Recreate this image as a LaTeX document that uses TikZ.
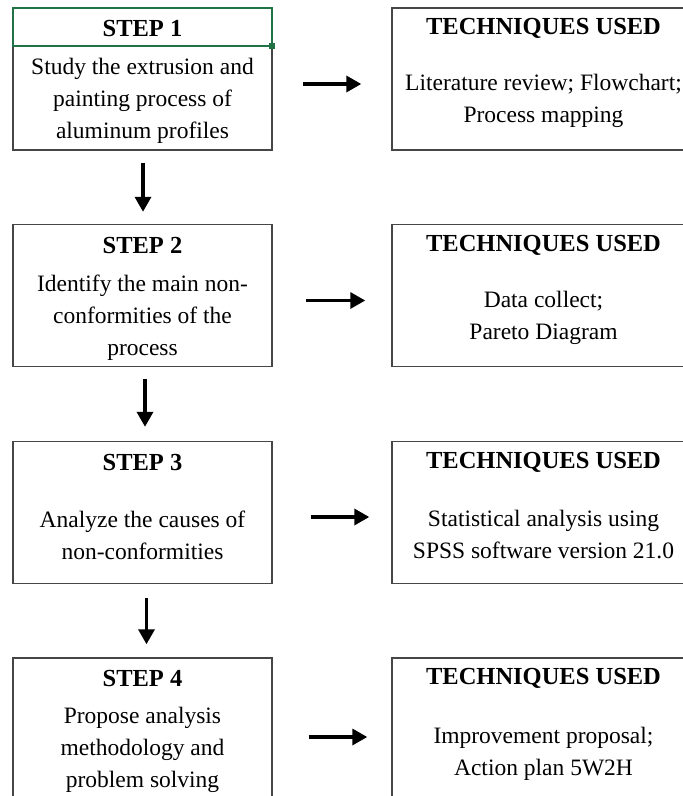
\documentclass[tikz,border=0pt]{standalone}
\usepackage{fontspec}
\setmainfont{Liberation Serif}
\usetikzlibrary{arrows.meta}
\definecolor{boxgray}{RGB}{70,70,70}
\definecolor{selgreen}{RGB}{33,115,70}
\begin{document}
\begin{tikzpicture}[x=1bp,y=-1bp,
  stepbox/.style={draw=boxgray, line width=1.4bp, minimum width=259bp, minimum height=142bp, inner sep=0pt},
  techbox/.style={stepbox, minimum width=303bp},
  head/.style={font=\fontsize{24.5bp}{28bp}\selectfont\bfseries, inner sep=0pt},
  body/.style={font=\fontsize{23.5bp}{32bp}\selectfont, align=center, inner sep=0pt},
  flow/.style={line width=3.4bp, -{Triangle[length=15bp,width=16bp]}}
]
\useasboundingbox (0,0) rectangle (683,796);
\clip (0,0) rectangle (683,796);

% step boxes (left column)
\node[stepbox] (s1) at (142.5,79) {};
\node[stepbox] (s2) at (142.5,295.5) {};
\node[stepbox] (s3) at (142.5,512.5) {};
\node[stepbox] (s4) at (142.5,729) {};

% technique boxes (right column)
\node[techbox] (t1) at (543.5,79) {};
\node[techbox] (t2) at (543.5,295.5) {};
\node[techbox] (t3) at (543.5,512.5) {};
\node[techbox] (t4) at (543.5,729) {};

% selected header cell of step 1
\draw[selgreen, line width=2bp] (13,8) rectangle (272,46);
\fill[selgreen] (269,43) rectangle (275,49);

% headings
\node[head] (h1) at (142.5,28.5) {STEP 1};
\node[head] (h2) at (142.5,245.5) {STEP 2};
\node[head] (h3) at (142.5,462.5) {STEP 3};
\node[head] (h4) at (142.5,678.5) {STEP 4};
\node[head] (g1) at (543.5,28.5) {TECHNIQUES USED};
\node[head] (g2) at (543.5,245.5) {TECHNIQUES USED};
\node[head] (g3) at (543.5,462.5) {TECHNIQUES USED};
\node[head] (g4) at (543.5,678.5) {TECHNIQUES USED};

% step descriptions
\node[body] (b1) at (142.5,101) {Study the extrusion and\\painting process of\\aluminum profiles};
\node[body] (b2) at (142.5,317.5) {Identify the main non-\\conformities of the\\process};
\node[body] (b3) at (142.5,535.5) {Analyze the causes of\\non-conformities};
\node[body] (b4) at (142.5,750) {Propose analysis\\methodology and\\problem solving};

% techniques
\node[body] (d1) at (543.5,100.5) {Literature review; Flowchart;\\Process mapping};
\node[body] (d2) at (543.5,317.5) {Data collect;\\Pareto Diagram};
\node[body] (d3) at (543.5,534.5) {Statistical analysis using\\SPSS software version 21.0};
\node[body] (d4) at (543.5,753.5) {Improvement proposal;\\Action plan 5W2H};

% step to technique arrows
\draw[flow, shorten <=30bp, shorten >=30bp] ([yshift=-5bp]s1.east) -- ([yshift=-5bp]t1.west);
\draw[flow, shorten <=33bp, shorten >=26bp] ([yshift=-5bp]s2.east) -- ([yshift=-5bp]t2.west);
\draw[flow, shorten <=38bp, shorten >=22bp] ([yshift=-4.5bp]s3.east) -- ([yshift=-4.5bp]t3.west);
\draw[flow, shorten <=36bp, shorten >=24bp] ([yshift=-8bp]s4.east) -- ([yshift=-8bp]t4.west);

% step to step arrows
\draw[flow, shorten <=12bp, shorten >=12bp] ([xshift=0.5bp]s1.south) -- ([xshift=0.5bp]s2.north);
\draw[flow, shorten <=12bp, shorten >=14bp] ([xshift=2.5bp]s2.south) -- ([xshift=2.5bp]s3.north);
\draw[flow, shorten <=14bp, shorten >=13bp] ([xshift=4bp]s3.south) -- ([xshift=4bp]s4.north);
\end{tikzpicture}
\end{document}
